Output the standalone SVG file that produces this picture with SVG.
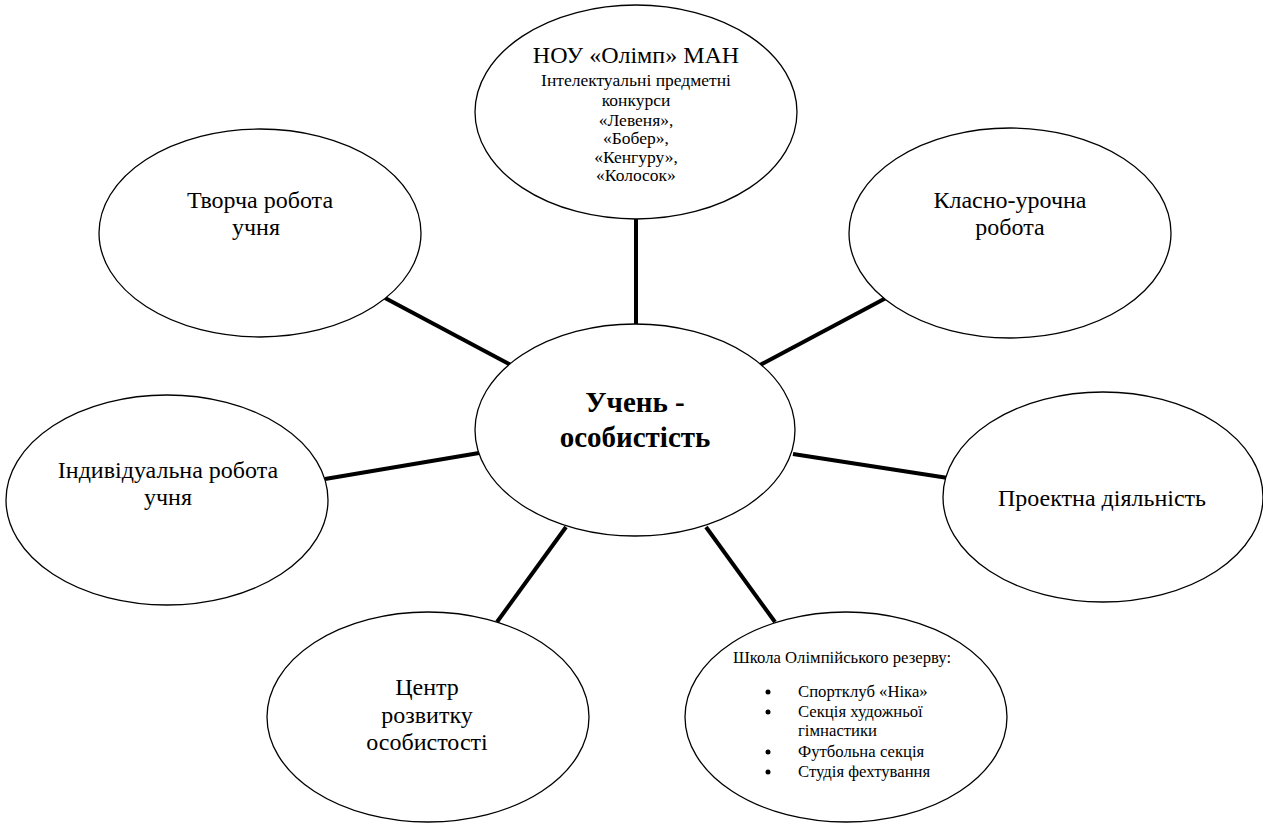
<svg xmlns="http://www.w3.org/2000/svg" width="1263" height="825" viewBox="0 0 1263 825">
<style>
.n{fill:#fff;stroke:#000;stroke-width:1.3}
.c line{stroke:#000;stroke-width:4}
text{font-family:"Liberation Serif","Times New Roman",serif;fill:#000;text-anchor:middle}
.t24{font-size:24px}
.t16{font-size:17.5px}
.t15{font-size:16.7px}
.b{font-size:29px;font-weight:bold}
.l{text-anchor:start}
</style>
<rect width="1263" height="825" fill="#fff"/>
<g id="connectors" class="c">
<line x1="636" y1="219" x2="636" y2="325"/>
<line x1="385" y1="298" x2="511" y2="365"/>
<line x1="886" y1="298" x2="760" y2="365"/>
<line x1="325" y1="479" x2="479" y2="453"/>
<line x1="793" y1="454" x2="948" y2="478"/>
<line x1="566" y1="527" x2="497" y2="622"/>
<line x1="706" y1="527" x2="775" y2="622"/>
</g>
<g id="center">
<ellipse class="n" cx="635" cy="430" rx="160" ry="106"/>
<text class="b" x="635" y="412">Учень -</text>
<text class="b" x="635" y="447">особистість</text>
</g>
<g id="top">
<ellipse class="n" cx="636" cy="112" rx="161" ry="107"/>
<text class="t24" x="636" y="63">НОУ «Олімп» МАН</text>
<text class="t16" x="636" y="86">Інтелектуальні предметні</text>
<text class="t16" x="636" y="106">конкурси</text>
<text class="t16" x="636" y="126">«Левеня»,</text>
<text class="t16" x="636" y="144">«Бобер»,</text>
<text class="t16" x="636" y="163">«Кенгуру»,</text>
<text class="t16" x="636" y="181">«Колосок»</text>
</g>
<g id="creative">
<ellipse class="n" cx="260" cy="233" rx="161" ry="104"/>
<text class="t24" x="260" y="208">Творча робота</text>
<text class="t24" x="256" y="235">учня</text>
</g>
<g id="classwork">
<ellipse class="n" cx="1010" cy="233" rx="161" ry="105"/>
<text class="t24" x="1010" y="208">Класно-урочна</text>
<text class="t24" x="1010" y="235">робота</text>
</g>
<g id="individual">
<ellipse class="n" cx="167" cy="500" rx="161" ry="105"/>
<text class="t24" x="168" y="478">Індивідуальна робота</text>
<text class="t24" x="168" y="505">учня</text>
</g>
<g id="project">
<ellipse class="n" cx="1103" cy="497" rx="160" ry="105"/>
<text class="t24" x="1102" y="506">Проектна діяльність</text>
</g>
<g id="centre">
<ellipse class="n" cx="428" cy="717" rx="161" ry="105"/>
<text class="t24" x="427" y="695">Центр</text>
<text class="t24" x="427" y="723">розвитку</text>
<text class="t24" x="427" y="750">особистості</text>
</g>
<g id="school">
<ellipse class="n" cx="846" cy="717" rx="161" ry="105"/>
<text class="t15" x="842" y="663">Школа Олімпійського резерву:</text>
<circle cx="768" cy="692" r="2.5"/>
<circle cx="768" cy="712" r="2.5"/>
<circle cx="768" cy="752" r="2.5"/>
<circle cx="768" cy="772" r="2.5"/>
<text class="t15 l" x="798" y="697">Спортклуб «Ніка»</text>
<text class="t15 l" x="798" y="717">Секція художньої</text>
<text class="t15 l" x="798" y="736">гімнастики</text>
<text class="t15 l" x="798" y="757">Футбольна секція</text>
<text class="t15 l" x="798" y="777">Студія фехтування</text>
</g>
</svg>
